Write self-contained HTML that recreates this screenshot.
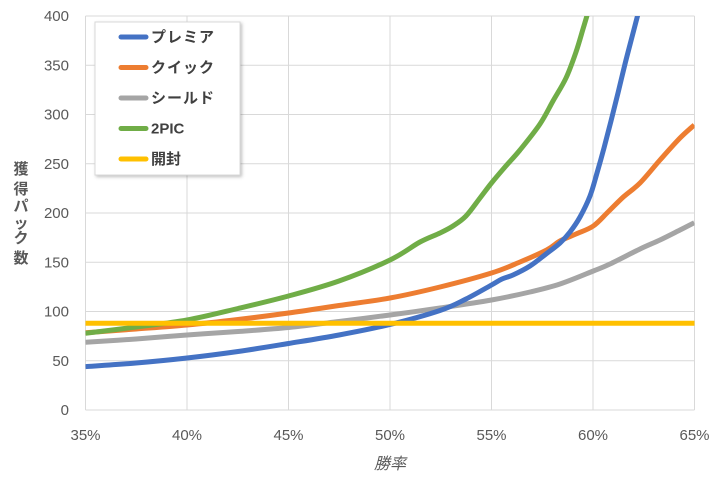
<!DOCTYPE html>
<html><head><meta charset="utf-8"><style>
html,body{margin:0;padding:0;background:#fff;}
svg{display:block;}
text{font-family:"Liberation Sans","Noto Sans CJK JP",sans-serif;fill:#595959;}
</style></head><body>
<svg width="720" height="480" viewBox="0 0 720 480" xmlns="http://www.w3.org/2000/svg">
<defs>
<clipPath id="pc"><rect x="85.5" y="16" width="609" height="394"/></clipPath>
<filter id="sh" x="-10%" y="-10%" width="130%" height="130%"><feDropShadow dx="1.5" dy="1.5" stdDeviation="1.5" flood-color="#000" flood-opacity="0.25"/></filter>
</defs>
<rect width="720" height="480" fill="#fff"/>
<g stroke="#d9d9d9" stroke-width="1" fill="none">
<line x1="85.5" y1="16" x2="694.5" y2="16"/>
<line x1="85.5" y1="65.25" x2="694.5" y2="65.25"/>
<line x1="85.5" y1="114.5" x2="694.5" y2="114.5"/>
<line x1="85.5" y1="163.75" x2="694.5" y2="163.75"/>
<line x1="85.5" y1="213" x2="694.5" y2="213"/>
<line x1="85.5" y1="262.25" x2="694.5" y2="262.25"/>
<line x1="85.5" y1="311.5" x2="694.5" y2="311.5"/>
<line x1="85.5" y1="360.75" x2="694.5" y2="360.75"/>
<line x1="85.5" y1="410" x2="694.5" y2="410"/>
<line x1="85.5" y1="16" x2="85.5" y2="410"/>
<line x1="187" y1="16" x2="187" y2="410"/>
<line x1="288.5" y1="16" x2="288.5" y2="410"/>
<line x1="390" y1="16" x2="390" y2="410"/>
<line x1="491.5" y1="16" x2="491.5" y2="410"/>
<line x1="593" y1="16" x2="593" y2="410"/>
<line x1="694.5" y1="16" x2="694.5" y2="410"/>
</g>
<g font-size="15" text-anchor="end">
<text x="69" y="21">400</text>
<text x="69" y="70.5">350</text>
<text x="69" y="119.5">300</text>
<text x="69" y="169">250</text>
<text x="69" y="218">200</text>
<text x="69" y="267.5">150</text>
<text x="69" y="316.5">100</text>
<text x="69" y="366">50</text>
<text x="69" y="415">0</text>
</g>
<g font-size="15" text-anchor="middle">
<text x="85.5" y="440">35%</text>
<text x="187" y="440">40%</text>
<text x="288.5" y="440">45%</text>
<text x="390" y="440">50%</text>
<text x="491.5" y="440">55%</text>
<text x="593" y="440">60%</text>
<text x="694.5" y="440">65%</text>
</g>
<text x="390" y="469" font-size="16" font-style="italic" text-anchor="middle">勝率</text>
<g font-size="15" font-weight="bold" text-anchor="middle">
<text x="21" y="174">獲</text>
<text x="21" y="194">得</text>
<text x="21" y="211">パ</text>
<text x="21" y="228">ッ</text>
<text x="21" y="243">ク</text>
<text x="21" y="263">数</text>
</g>
<g id="series" clip-path="url(#pc)" fill="none" stroke-width="5" stroke-linejoin="round" stroke-linecap="butt">
<polyline class="sm" stroke="#a5a5a5" points="85.5,342.3 136,339 187,335 238,331.5 288.5,327.5 339,321.5 390,315 440,308 491.5,300 530,292 560,284 593.3,271 610,264 640,249 660,240 680,230 694.3,222.7"/>
<polyline class="sm" stroke="#ed7d31" points="85.5,332.7 136,329 187,325 238,319.5 288.5,313 339,305.5 390,298 440,287 491.5,273 520,262 546.7,250 560,241 576,234 593.3,226 608,212 623.3,197 640,183 660,160 680,138 694.3,125"/>
<polyline class="sm" stroke="#4472c4" points="85.5,366.6 136,363 187,358 238,351.5 288.5,343.5 339,335 390,324.5 440,310.5 466,299 491.5,285 502,279 513,275 530,266 546,254 560,243 570,232 580,217 590,196 597,173 604,148 611,121 618,93 625,64 632,37 638,14 640,5"/>
<polyline class="sm" stroke="#70ad47" points="85.5,333.3 136,327 187,320 238,308.5 288.5,296 339,281 390,260 420,242 440,233 453,226 466,216 480,198 491.5,183 505,167 520,150 540,124 553,101 566,78 576,52 583,29 588,12 589.5,4"/>
<line stroke="#ffc000" x1="85.5" y1="323.3" x2="694.5" y2="323.3"/>
</g>
<rect x="95" y="22" width="145" height="153" fill="#fff" stroke="#d9d9d9" stroke-width="1" filter="url(#sh)"/>
<g stroke-width="5" stroke-linecap="round">
<line x1="121" y1="37" x2="146" y2="37" stroke="#4472c4"/>
<line x1="121" y1="67.5" x2="146" y2="67.5" stroke="#ed7d31"/>
<line x1="121" y1="98" x2="146" y2="98" stroke="#a5a5a5"/>
<line x1="121" y1="128.5" x2="146" y2="128.5" stroke="#70ad47"/>
<line x1="121" y1="159" x2="146" y2="159" stroke="#ffc000"/>
</g>
<g font-size="15" font-weight="bold">
<text x="151" y="42" style="fill:#404040;letter-spacing:1px">プレミア</text>
<text x="151" y="72.5" style="fill:#404040;letter-spacing:1px">クイック</text>
<text x="151" y="103" style="fill:#404040;letter-spacing:1px">シールド</text>
<text x="151" y="133.5" style="fill:#404040">2PIC</text>
<text x="151" y="164" style="fill:#404040">開封</text>
</g>
</svg>
<script>
(function(){
  var NS="http://www.w3.org/2000/svg";
  var pls=document.querySelectorAll("polyline.sm");
  for(var k=0;k<pls.length;k++){
    var pl=pls[k];
    var pts=pl.getAttribute("points").trim().split(/\s+/).map(function(s){var a=s.split(",");return [parseFloat(a[0]),parseFloat(a[1])];});
    var d="M"+pts[0][0]+","+pts[0][1];
    for(var i=0;i<pts.length-1;i++){
      var p0=pts[i>0?i-1:i],p1=pts[i],p2=pts[i+1],p3=pts[i+2<pts.length?i+2:i+1];
      var c1x=p1[0]+(p2[0]-p0[0])/6,c1y=p1[1]+(p2[1]-p0[1])/6;
      var c2x=p2[0]-(p3[0]-p1[0])/6,c2y=p2[1]-(p3[1]-p1[1])/6;
      d+=" C"+c1x.toFixed(2)+","+c1y.toFixed(2)+" "+c2x.toFixed(2)+","+c2y.toFixed(2)+" "+p2[0]+","+p2[1];
    }
    var path=document.createElementNS(NS,"path");
    path.setAttribute("d",d);
    path.setAttribute("stroke",pl.getAttribute("stroke"));
    pl.parentNode.insertBefore(path,pl);
    pl.parentNode.removeChild(pl);
  }
})();
</script>
</body></html>
